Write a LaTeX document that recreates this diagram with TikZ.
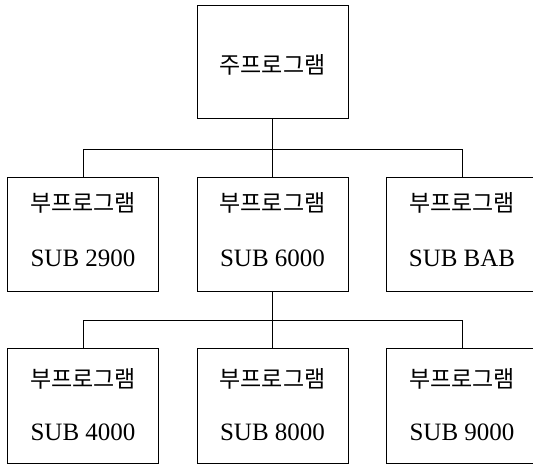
\documentclass[tikz,border=0pt]{standalone}
\usepackage{fontspec}
\setmainfont{Liberation Serif}
\newfontfamily\kr{Noto Sans CJK KR}
\begin{document}
\begin{tikzpicture}[x=1pt,y=1pt,
  box/.style={draw, line width=1pt, minimum width=151pt, minimum height=114pt, inner sep=0pt},
  kt/.style={font=\kr\fontsize{23}{26}\selectfont, inner sep=0pt},
  st/.style={font=\fontsize{25}{30}\selectfont, inner sep=0pt},
  wire/.style={line width=1pt}]
\clip (0,0) rectangle (533,464);
\fill[white] (0,0) rectangle (533,464);
% top
\node[box, minimum height=113pt] (main) at (272.5,401.5) {};
\node[kt] (maint) at ([yshift=-2pt]main.center) {주프로그램};
% middle row
\node[box] (s1) at (83,229) {};
\node[box] (s2) at (272.5,229) {};
\node[box] (s3) at (462,229) {};
\node[kt] (s1k) at ([yshift=32pt]s1.center) {부프로그램};
\node[st] (s1s) at ([yshift=-23pt]s1.center) {SUB 2900};
\node[kt] (s2k) at ([yshift=32pt]s2.center) {부프로그램};
\node[st] (s2s) at ([yshift=-23pt]s2.center) {SUB 6000};
\node[kt] (s3k) at ([yshift=32pt]s3.center) {부프로그램};
\node[st] (s3s) at ([yshift=-23pt]s3.center) {SUB BAB};
% bottom row
\node[box, minimum height=115pt] (t1) at (83,58.5) {};
\node[box, minimum height=115pt] (t2) at (272.5,58.5) {};
\node[box, minimum height=115pt] (t3) at (462,58.5) {};
\node[kt] (t1k) at ([yshift=27pt]t1.center) {부프로그램};
\node[st] (t1s) at ([yshift=-27pt]t1.center) {SUB 4000};
\node[kt] (t2k) at ([yshift=27pt]t2.center) {부프로그램};
\node[st] (t2s) at ([yshift=-27pt]t2.center) {SUB 8000};
\node[kt] (t3k) at ([yshift=27pt]t3.center) {부프로그램};
\node[st] (t3s) at ([yshift=-27pt]t3.center) {SUB 9000};
% connectors
\coordinate (bus1) at (272.5,314);
\coordinate (bus2) at (272.5,143);
\draw[wire] (main.south) -- (s2.north);
\draw[wire] (s1.north) -- (s1.north |- bus1) -- (s3.north |- bus1) -- (s3.north);
\draw[wire] (s2.south) -- (t2.north);
\draw[wire] (t1.north) -- (t1.north |- bus2) -- (t3.north |- bus2) -- (t3.north);
\end{tikzpicture}
\end{document}
